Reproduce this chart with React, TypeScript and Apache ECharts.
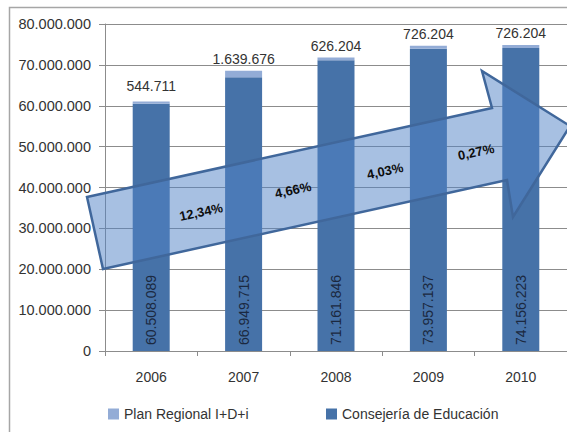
import React, { useEffect, useRef } from "react";
import * as echarts from "echarts";

const categories = ["2006", "2007", "2008", "2009", "2010"];
const consejeria = [60508089, 66949715, 71161846, 73957137, 74156223];
const planRegional = [544711, 1639676, 626204, 726204, 726204];
const growthLabels = ["12,34%", "4,66%", "4,03%", "0,27%"];
const yMax = 80000000;
const yInterval = 10000000;

const fmt = (v: number) =>
  String(Math.round(v)).replace(/\B(?=(\d{3})+(?!\d))/g, ".");

const FONT = "Liberation Sans, Arial, sans-serif";
const TEXT = "#333333";

export default function App() {
  const ref = useRef<HTMLDivElement>(null);
  useEffect(() => {
    if (!ref.current) return;
    const chart = echarts.init(ref.current, undefined, { renderer: "svg" });
    const labelPos = [
      [201, 212],
      [293, 190],
      [385, 171],
      [476, 152],
    ];
    chart.setOption({
      animation: false,
      backgroundColor: "#ffffff",
      textStyle: { fontFamily: FONT },
      grid: { left: 105, top: 24, right: -3, bottom: 81 },
      xAxis: {
        type: "category",
        data: categories,
        axisLine: { lineStyle: { color: "#8c8c8c", width: 1 } },
        axisTick: { show: true, length: 5, lineStyle: { color: "#8c8c8c" } },
        axisLabel: { color: TEXT, fontSize: 14, margin: 19, fontFamily: FONT },
      },
      yAxis: {
        type: "value",
        min: 0,
        max: yMax,
        interval: yInterval,
        axisLine: { show: true, lineStyle: { color: "#8c8c8c", width: 1 } },
        axisTick: { show: true, length: 6, lineStyle: { color: "#8c8c8c" } },
        splitLine: { lineStyle: { color: "#8c8c8c", width: 1 } },
        axisLabel: {
          color: TEXT,
          fontSize: 14.5,
          margin: 14,
          fontFamily: FONT,
          formatter: (v: number) => fmt(v),
        },
      },
      legend: [
        {
          left: 103,
          top: 402,
          itemWidth: 11,
          itemHeight: 11,
          icon: "rect",
          data: ["Plan Regional I+D+i"],
          textStyle: { color: TEXT, fontSize: 14, fontFamily: FONT },
        },
        {
          left: 321,
          top: 402,
          itemWidth: 11,
          itemHeight: 11,
          icon: "rect",
          data: ["Consejería de Educación"],
          textStyle: { color: TEXT, fontSize: 14, fontFamily: FONT },
        },
      ],
      series: [
        {
          name: "Consejería de Educación",
          type: "bar",
          stack: "total",
          barWidth: 37,
          data: consejeria,
          itemStyle: { color: "#4672a8" },
          label: {
            show: true,
            position: "insideBottom",
            rotate: 90,
            align: "left",
            verticalAlign: "middle",
            distance: 6,
            color: "#1b2940",
            fontSize: 14,
            fontFamily: FONT,
            formatter: (p: any) => fmt(p.value),
          },
          z: 2,
        },
        {
          name: "Plan Regional I+D+i",
          type: "bar",
          stack: "total",
          barWidth: 37,
          data: planRegional.map((v, i) =>
            i === 0 ? { value: v, label: { distance: 8 } } : v
          ),
          itemStyle: { color: "#93acd6" },
          label: {
            show: true,
            position: "top",
            distance: 5,
            color: TEXT,
            fontSize: 14,
            fontFamily: FONT,
            formatter: (p: any) => fmt(p.value),
          },
          z: 2,
        },
      ],
      graphic: [
        {
          type: "rect",
          shape: { x: 9.5, y: 7.5, width: 700, height: 600 },
          style: { fill: "none", stroke: "#a6a6a6", lineWidth: 1.5 },
          silent: true,
          z: 1,
        },
        {
          type: "polygon",
          shape: {
            points: [
              [87, 197],
              [492, 108],
              [482, 71],
              [570, 126],
              [513, 217],
              [507, 180],
              [103, 269],
            ],
          },
          style: {
            fill: "rgba(79,129,197,0.5)",
            stroke: "#40679b",
            lineWidth: 2.5,
            lineJoin: "miter",
          },
          silent: true,
          z: 50,
        },
        ...growthLabels.map((t, i) => ({
          type: "text",
          x: labelPos[i][0],
          y: labelPos[i][1],
          rotation: 0.215,
          style: {
            text: t,
            fill: "#0d0d0d",
            font: `bold 13px ${FONT}`,
            align: "center",
            verticalAlign: "middle",
          },
          silent: true,
          z: 60,
        })),
      ],
    });
    return () => chart.dispose();
  }, []);
  return (
    <div
      ref={ref}
      style={{ position: "fixed", left: 0, top: 0, width: 567, height: 432 }}
    />
  );
}
